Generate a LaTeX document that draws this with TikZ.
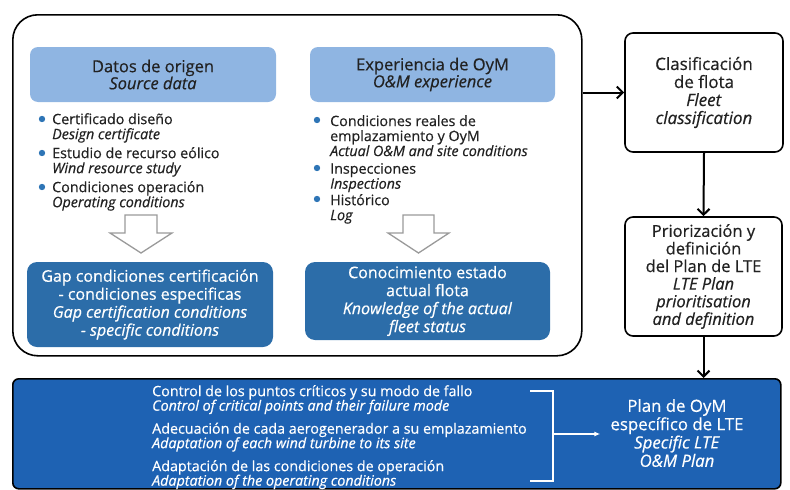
\documentclass[tikz,border=0pt]{standalone}
\usepackage{fontspec}
\setmainfont{Open Sans}[FakeBold=0.5]
\usetikzlibrary{arrows.meta}
\definecolor{paleblue}{HTML}{8FB5E2}
\definecolor{midblue}{HTML}{2C6DA9}
\definecolor{deepblue}{HTML}{1E62B3}
\definecolor{dotblue}{HTML}{2E75B6}
\definecolor{hollowgray}{HTML}{9A9A9A}
\definecolor{ink}{HTML}{222222}
\tikzset{
  frame/.style={draw=black, line width=1.6pt},
  headbox/.style={fill=paleblue, rounded corners=8pt, minimum width=246pt, minimum height=55pt,
    align=center, font=\fontsize{16.5}{17}\selectfont, text=ink},
  resultbox/.style={fill=midblue, rounded corners=10pt, align=center, text=white,
    font=\fontsize{16}{18}\selectfont},
  item/.style={anchor=north west, align=left, inner sep=0pt, text=ink,
    font=\fontsize{14.3}{15}\selectfont},
  dot/.style={fill=dotblue},
  hollow/.style={draw=hollowgray, line width=1.3pt, fill=white, line join=miter},
  stepbox/.style={frame, rounded corners=8pt, fill=white, align=center, text=ink,
    font=\fontsize{17}{18}\selectfont},
  flow/.style={line width=2pt, -{Straight Barb[length=6pt,width=12pt,line width=2pt]}},
  whitetext/.style={text=white, align=left, inner sep=0pt},
}
\begin{document}
\begin{tikzpicture}[x=1pt,y=-1pt]
\useasboundingbox (0,0) rectangle (790,490);

% outer frame grouping both sources
\node[frame, rounded corners=25pt, minimum width=569pt, minimum height=341pt, anchor=north west, inner sep=0pt] (outer) at (12,14) {};

% source headers
\node[headbox] (datos) at (153,74.5) {Datos de origen\\\textit{Source data}};
\node[headbox, minimum width=245pt] (expe) at (432.5,74.5) {Experiencia de OyM\\\textit{O\&M experience}};

% left bullet list
\node[item] (l1) at (52,113) {Certificado diseño\\\textit{Design certificate}};
\node[item] (l2) at (52,147) {Estudio de recurso eólico\\\textit{Wind resource study}};
\node[item] (l3) at (52,181) {Condiciones operación\\\textit{Operating conditions}};
\foreach \n in {l1,l2,l3} \fill[dot] (\n.north west) ++(-10,6) circle (3.2pt);

% right bullet list
\node[item] (r1) at (330,115) {Condiciones reales de\\emplazamiento y OyM\\\textit{Actual O\&M and site conditions}};
\node[item] (r2) at (330,163) {Inspecciones\\\textit{Inspections}};
\node[item] (r3) at (330,194) {Histórico\\\textit{Log}};
\foreach \n in {r1,r2,r3} \fill[dot] (\n.north west) ++(-13,5) circle (3.2pt);

% hollow down arrows
\draw[hollow] (125,215) -- (157,215) -- (157,233) -- (172,233) -- (141,253) -- (110,233) -- (125,233) -- cycle;
\draw[hollow] (403,215) -- (434,215) -- (434,233) -- (449,233) -- (418.5,253) -- (388,233) -- (403,233) -- cycle;

% results
\node[resultbox, minimum width=246pt, minimum height=85pt] (gap) at (150,304.5)
  {Gap condiciones certificación\\- condiciones especificas\\\textit{Gap certification conditions}\\\textit{- specific conditions}};
\node[resultbox, minimum width=245pt, minimum height=78pt] (cono) at (427.5,301)
  {Conocimiento estado\\actual flota\\\textit{Knowledge of the actual}\\\textit{fleet status}};

% right-hand process column
\node[stepbox, minimum width=158pt, minimum height=119pt] (clas) at (704,92.5)
  {Clasificación\\de flota\\\textit{Fleet}\\\textit{classification}};
\node[stepbox, minimum width=157pt, minimum height=119pt, font=\fontsize{16.5}{17.6}\selectfont] (prio) at (703.5,276.5)
  {Priorización y\\definición\\del Plan de LTE\\\textit{LTE Plan}\\\textit{prioritisation}\\\textit{and definition}};

% bottom band
\node[frame, fill=deepblue, rounded corners=6pt, minimum width=768pt, minimum height=110pt, anchor=north west, inner sep=0pt] (band) at (12,378) {};

\node[whitetext, anchor=north west, font=\fontsize{14.3}{14.5}\selectfont] (acts) at (152,385)
  {Control de los puntos críticos y su modo de fallo\\\textit{Control of critical points and their failure mode}\\[8.5pt]
   Adecuación de cada aerogenerador a su emplazamiento\\\textit{Adaptation of each wind turbine to its site}\\[8.5pt]
   Adaptación de las condiciones de operación\\\textit{Adaptation of the operating conditions}};

\node[whitetext, align=center, font=\fontsize{16.8}{18.3}\selectfont] (plan) at (677,433)
  {Plan de OyM\\específico de LTE\\\textit{Specific LTE}\\\textit{O\&M Plan}};

% bracket gathering the three actions
\coordinate (bt) at (553,391);
\coordinate (bb) at (553,481);
\coordinate (bm) at (553,434);
\draw[white, line width=1.4pt] (530,391) -- (bt) -- (bb) -- (530,481);
\draw[white, line width=1.4pt, shorten >=10pt, -{Latex[length=6pt,width=5pt]}] (bm) -- (bm -| plan.west);

% flow connectors
\draw[flow] (outer.east |- clas.west) -- (clas.west);
\draw[flow] (clas.south) -- (prio.north);
\draw[flow] (prio.south) -- (prio.south |- band.north);
\end{tikzpicture}
\end{document}
